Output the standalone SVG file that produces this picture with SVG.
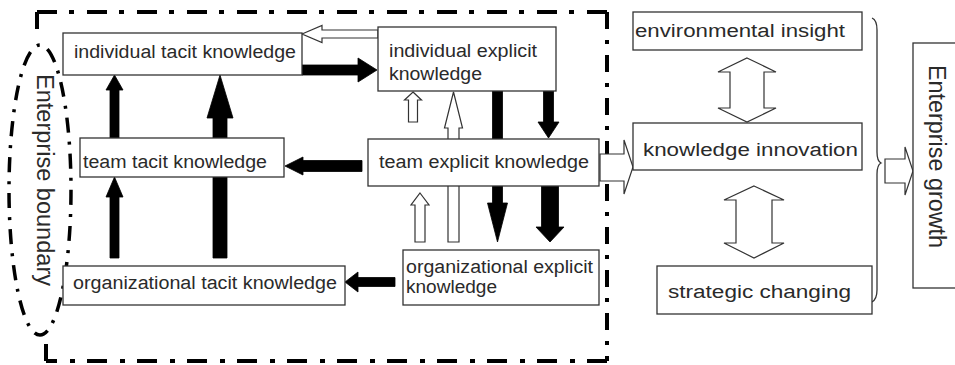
<svg xmlns="http://www.w3.org/2000/svg" width="955" height="365" viewBox="0 0 955 365">
  <style>
    .box { fill: #ffffff; stroke: #333333; stroke-width: 1.3; }
    .lbl { font-family: "Liberation Sans", Arial, sans-serif; font-size: 18px; fill: #2a2a2a; }
    .vlbl { font-family: "Liberation Sans", Arial, sans-serif; font-size: 23px; fill: #2a2a2a; }
    .solid { fill: #000000; stroke: #000000; stroke-width: 0.8; stroke-linejoin: miter; }
    .hollow { fill: #ffffff; stroke: #333333; stroke-width: 1.2; stroke-linejoin: miter; }
    .frame-h { fill: none; stroke: #000000; stroke-width: 4; stroke-dasharray: 20 12 5 13; }
    .frame-v { fill: none; stroke: #000000; stroke-width: 4; stroke-dasharray: 17 11 4 11; }
    .bound { fill: none; stroke: #000000; stroke-width: 3.5; stroke-dasharray: 15 9 3 9; }
    .brace { fill: none; stroke: #333333; stroke-width: 1.3; }
  </style>

  <rect width="955" height="365" fill="#ffffff"/>

  <!-- dash-dot frame around the knowledge layers -->
  <g id="frame">
    <line class="frame-h" x1="37" y1="12" x2="607" y2="12"/>
    <line class="frame-v" x1="607" y1="12" x2="607" y2="361"/>
    <line class="frame-h" x1="607" y1="361" x2="46" y2="361"/>
    <line class="frame-v" x1="37" y1="12" x2="37" y2="30"/>
    <line class="frame-v" x1="46" y1="361" x2="46" y2="336"/>
  </g>

  <!-- enterprise boundary ellipse with vertical label -->
  <g id="enterprise-boundary">
    <ellipse class="bound" cx="40" cy="190" rx="31" ry="145"/>
    <text class="vlbl" transform="translate(37,74) rotate(90)" textLength="212" lengthAdjust="spacingAndGlyphs">Enterprise boundary</text>
  </g>

  <!-- connectors -->
  <g id="connectors">
    <!-- individual explicit -> individual tacit (hollow) -->
    <polygon class="hollow" points="302,34 322,25.5 322,30 378,30 378,38 322,38 322,42.5"/>
    <!-- individual tacit -> individual explicit -->
    <polygon class="solid" points="377,70 358,58 358,65 302,65 302,75 358,75 358,82"/>
    <!-- team tacit -> individual tacit -->
    <polygon class="solid" points="114.5,75 123,90 119,90 119,138 110,138 110,90 106,90"/>
    <!-- organizational tacit -> individual tacit (runs behind team tacit) -->
    <polygon class="solid" points="220,75 233,118 227,118 227,258 213,258 213,118 207,118"/>
    <!-- organizational tacit -> team tacit -->
    <polygon class="solid" points="114.5,177 123,197 119,197 119,258 110,258 110,197 106,197"/>
    <!-- team explicit -> team tacit -->
    <polygon class="solid" points="285,166 303,157 303,160.5 362,160.5 362,171.5 303,171.5 303,175"/>
    <!-- organizational explicit -> organizational tacit -->
    <polygon class="solid" points="345,282 358,272 358,277.5 395,277.5 395,286.5 358,286.5 358,292"/>
    <!-- team explicit -> individual explicit (small hollow) -->
    <polygon class="hollow" points="413,92 421.5,100 417.5,100 417.5,122 408.5,122 408.5,100 404.5,100"/>
    <!-- organizational explicit -> individual explicit (tall hollow) -->
    <polygon class="hollow" points="453.5,92 462.5,128 459,128 459,242 448,242 448,128 444.5,128"/>
    <!-- individual explicit -> organizational explicit -->
    <polygon class="solid" points="497.5,242 507.5,203 502.5,203 502.5,91 492.5,91 492.5,203 487.5,203"/>
    <!-- individual explicit -> team explicit -->
    <polygon class="solid" points="548.5,138 559,122 553.5,122 553.5,91 543.5,91 543.5,122 538,122"/>
    <!-- team explicit -> organizational explicit -->
    <polygon class="solid" points="550,242 564,227 558.5,227 558.5,186 541.5,186 541.5,227 536,227"/>
    <!-- organizational explicit -> team explicit (small hollow) -->
    <polygon class="hollow" points="420,193 429,205 425,205 425,242 415,242 415,205 411,205"/>
    <!-- team explicit -> knowledge innovation -->
    <polygon class="hollow" points="600,154 624,154 624,140 633,167 624,194 624,181 600,181"/>
    <!-- environmental insight <-> knowledge innovation -->
    <polygon class="hollow" points="747,58 776,72 764,72 764,108 776,108 747,122 718,108 730,108 730,72 718,72"/>
    <!-- knowledge innovation <-> strategic changing -->
    <polygon class="hollow" points="754,186 784,200 772,200 772,243 784,243 754,258 724,243 736,243 736,200 724,200"/>
    <!-- brace grouping the three right-hand boxes -->
    <path class="brace" d="M872,18 Q877,20 877,30 L877,152 Q877,161 881,163 Q877,165 877,174 L877,290 Q877,299 872,302"/>
    <!-- grouped factors -> enterprise growth -->
    <polygon class="hollow" points="885,159 905,159 905,147 913,171 905,195 905,183 885,183"/>
  </g>

  <!-- knowledge nodes -->
  <g id="individual-tacit">
    <rect class="box" x="63" y="33" width="239" height="42"/>
    <text class="lbl" x="74" y="58" textLength="222" lengthAdjust="spacingAndGlyphs">individual tacit knowledge</text>
  </g>
  <g id="individual-explicit">
    <rect class="box" x="378" y="27" width="178" height="64"/>
    <text class="lbl" x="389" y="57" textLength="148" lengthAdjust="spacingAndGlyphs">individual explicit</text>
    <text class="lbl" x="389" y="80" textLength="93" lengthAdjust="spacingAndGlyphs">knowledge</text>
  </g>
  <g id="team-tacit">
    <rect class="box" x="80" y="138" width="204" height="39"/>
    <text class="lbl" x="83" y="168" textLength="184" lengthAdjust="spacingAndGlyphs">team tacit knowledge</text>
  </g>
  <g id="team-explicit">
    <rect class="box" x="368" y="139" width="231" height="47"/>
    <text class="lbl" x="379" y="168" textLength="210" lengthAdjust="spacingAndGlyphs">team explicit knowledge</text>
  </g>
  <g id="organizational-tacit">
    <rect class="box" x="63" y="266" width="282" height="39"/>
    <text class="lbl" x="73" y="289" textLength="264" lengthAdjust="spacingAndGlyphs">organizational tacit knowledge</text>
  </g>
  <g id="organizational-explicit">
    <rect class="box" x="403" y="250" width="196" height="55"/>
    <text class="lbl" x="406" y="273" textLength="187" lengthAdjust="spacingAndGlyphs">organizational explicit</text>
    <text class="lbl" x="406" y="293" textLength="91" lengthAdjust="spacingAndGlyphs">knowledge</text>
  </g>

  <!-- growth factors -->
  <g id="environmental-insight">
    <rect class="box" x="633" y="12" width="229" height="38"/>
    <text class="lbl" x="635" y="37" textLength="210" lengthAdjust="spacingAndGlyphs">environmental insight</text>
  </g>
  <g id="knowledge-innovation">
    <rect class="box" x="633" y="123" width="229" height="47"/>
    <text class="lbl" x="643" y="156" textLength="215" lengthAdjust="spacingAndGlyphs">knowledge innovation</text>
  </g>
  <g id="strategic-changing">
    <rect class="box" x="657" y="266" width="215" height="48"/>
    <text class="lbl" x="668" y="298" textLength="183" lengthAdjust="spacingAndGlyphs">strategic changing</text>
  </g>
  <g id="enterprise-growth">
    <rect class="box" x="913" y="43" width="60" height="245"/>
    <text class="vlbl" transform="translate(929,65) rotate(90)" textLength="183" lengthAdjust="spacingAndGlyphs">Enterprise growth</text>
  </g>
</svg>
